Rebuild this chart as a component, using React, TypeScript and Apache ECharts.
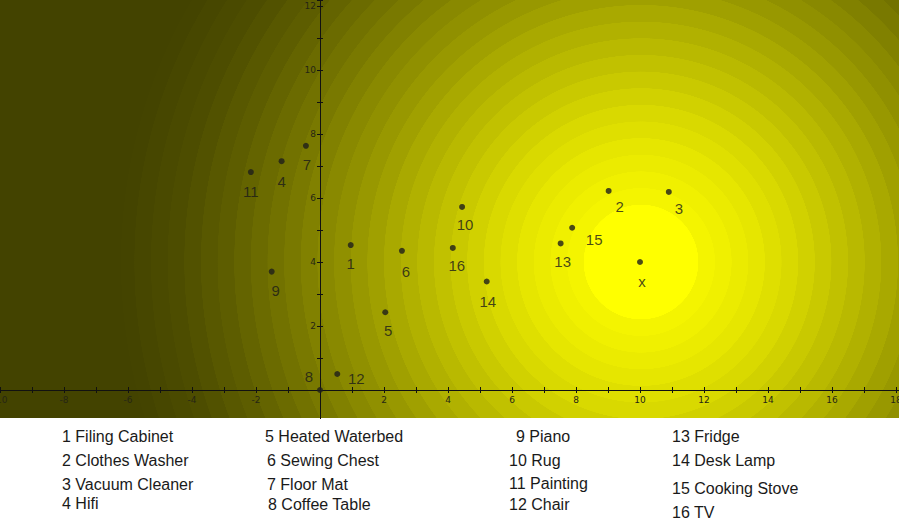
import React, { useEffect, useRef } from "react";
import * as echarts from "echarts";

// ---- data ----
const itemIds = ["1", "2", "3", "4", "5", "6", "7", "8", "9", "10", "11", "12", "13", "14", "15", "16"];
const itemNames = [
  "Filing Cabinet", "Clothes Washer", "Vacuum Cleaner", "Hifi",
  "Heated Waterbed", "Sewing Chest", "Floor Mat", "Coffee Table",
  "Piano", "Rug", "Painting", "Chair",
  "Fridge", "Desk Lamp", "Cooking Stove", "TV",
];
const xValues = [0.96, 9.02, 10.9, -1.2, 2.04, 2.56, -0.44, 0, -1.51, 4.44, -2.16, 0.54, 7.52, 5.21, 7.88, 4.15];
const yValues = [4.53, 6.22, 6.19, 7.15, 2.43, 4.35, 7.63, 0, 3.7, 5.72, 6.81, 0.5, 4.58, 3.39, 5.07, 4.44];
const idealLabel = "x";
const idealX = 10;
const idealY = 4;

// ---- styles / layout ----
const labelOffsets: Record<string, number[]> = {
  "1": [0, 18], "2": [11, 16], "3": [10, 17], "4": [0, 20], "5": [3, 18], "6": [4, 21],
  "7": [1, 19], "8": [-11, -14], "9": [4, 19], "10": [3, 18], "11": [0, 19], "12": [19, 4],
  "13": [2, 18], "14": [1, 20], "15": [22, 12], "16": [4, 18], x: [2, 19],
};
const legendPos: Record<string, number[]> = {
  "1": [62, 436], "2": [62, 460], "3": [62, 484], "4": [62, 503],
  "5": [265, 436], "6": [267, 460], "7": [267, 484], "8": [268, 504],
  "9": [516, 436], "10": [509, 460], "11": [509, 483], "12": [509, 504],
  "13": [672, 436], "14": [672, 460], "15": [672, 488], "16": [672, 512],
};
const W = 899;
const H = 524;
const PLOT_H = 418;
const GRID_H = 422;
const X_MIN = -10;
const X_MAX = 18.09375;
const Y_MIN = -1;
const Y_MAX = 12.1875;
const FONT = "'Liberation Sans', Arial, sans-serif";
const TICK_FONT = "'DejaVu Sans', sans-serif";

// background colour anchors (offset along radius, colour)
const gradientAnchors: [number, string][] = [
  [0.11, "#f6f600"],
  [0.2, "#eaea00"],
  [0.3, "#d6d600"],
  [0.4, "#bdbd00"],
  [0.5, "#a3a300"],
  [0.6, "#8a8a00"],
  [0.7, "#727200"],
  [0.8, "#5d5d00"],
  [0.9, "#4c4c00"],
  [1, "#434300"],
];
const BAND = 0.032;

function hexToRgb(h: string) {
  return [1, 3, 5].map((i) => parseInt(h.slice(i, i + 2), 16));
}
function colorAt(t: number) {
  if (t <= gradientAnchors[0][0]) return gradientAnchors[0][1];
  for (let i = 1; i < gradientAnchors.length; i++) {
    const [o1, c1] = gradientAnchors[i];
    const [o0, c0] = gradientAnchors[i - 1];
    if (t <= o1) {
      const f = (t - o0) / (o1 - o0);
      const a = hexToRgb(c0);
      const b = hexToRgb(c1);
      const m = a.map((v, k) => Math.round(v + (b[k] - v) * f));
      return `rgb(${m[0]},${m[1]},${m[2]})`;
    }
  }
  return gradientAnchors[gradientAnchors.length - 1][1];
}
function bandedStops() {
  const stops: { offset: number; color: string }[] = [
    { offset: 0, color: "#ffff00" },
    { offset: 0.11, color: "#ffff00" },
  ];
  for (let s = 0.11; s < 1; s += BAND) {
    const e = Math.min(1, s + BAND);
    const c = colorAt((s + e) / 2);
    stops.push({ offset: s + 0.0005, color: c });
    stops.push({ offset: e, color: c });
  }
  stops.push({ offset: 1, color: "#434300" });
  return stops;
}

const tickFmt = (v: number) => (v % 2 === 0 && v !== 0 ? String(v) : "");

export default function App() {
  const ref = useRef<HTMLDivElement>(null);
  useEffect(() => {
    if (!ref.current) return;
    const chart = echarts.init(ref.current, undefined, { renderer: "svg" });

    const pointData = itemIds.map((id, i) => ({
      name: id,
      value: [xValues[i], yValues[i]],
      label: { offset: labelOffsets[id] },
    }));
    pointData.push({
      name: idealLabel,
      value: [idealX, idealY],
      label: { offset: labelOffsets[idealLabel] },
    });

    const legendTexts = itemIds.map((id, i) => ({
      type: "text",
      x: legendPos[id][0],
      y: legendPos[id][1],
      z: 60,
      silent: true,
      style: {
        text: `${id} ${itemNames[i]}`,
        fill: "#1a1a1a",
        font: `16px ${FONT}`,
        textVerticalAlign: "middle",
        textAlign: "left",
      },
    }));

    // pixel offsets placing the axes through the origin
    const xAxisOffset = -(GRID_H * (0 - Y_MIN)) / (Y_MAX - Y_MIN);
    const yAxisOffset = -(W * (0 - X_MIN)) / (X_MAX - X_MIN);

    const tickStyle = { color: "#111", width: 1 };
    const labelStyle = { fontSize: 9, color: "#262614", fontFamily: TICK_FONT };

    const option: any = {
      animation: false,
      backgroundColor: "#ffffff",
      grid: {
        left: 0, top: 0, width: W, height: GRID_H,
        containLabel: false, outerBoundsMode: "none",
      },
      xAxis: [
        {
          type: "value", min: X_MIN, max: X_MAX, interval: 1,
          position: "bottom", offset: xAxisOffset,
          splitLine: { show: false },
          axisLine: { onZero: false, lineStyle: tickStyle },
          axisTick: { length: 3, lineStyle: tickStyle },
          axisLabel: { ...labelStyle, formatter: tickFmt, margin: 5 },
        },
        {
          type: "value", min: X_MIN, max: X_MAX, interval: 1,
          position: "bottom", offset: xAxisOffset,
          splitLine: { show: false },
          axisLine: { show: false, onZero: false },
          axisTick: { inside: true, length: 3, lineStyle: tickStyle },
          axisLabel: { show: false },
        },
      ],
      yAxis: [
        {
          type: "value", min: Y_MIN, max: Y_MAX, interval: 1,
          position: "left", offset: yAxisOffset,
          splitLine: { show: false },
          axisLine: { onZero: false, lineStyle: tickStyle },
          axisTick: { length: 3, lineStyle: tickStyle },
          axisLabel: { ...labelStyle, formatter: tickFmt, margin: 4 },
        },
        {
          type: "value", min: Y_MIN, max: Y_MAX, interval: 1,
          position: "left", offset: yAxisOffset,
          splitLine: { show: false },
          axisLine: { show: false, onZero: false },
          axisTick: { inside: true, length: 3, lineStyle: tickStyle },
          axisLabel: { show: false },
        },
      ],
      graphic: [
        {
          type: "rect",
          z: -10,
          silent: true,
          shape: { x: 0, y: 0, width: W, height: PLOT_H },
          style: { fill: new echarts.graphic.RadialGradient(641, 262, 520, bandedStops(), true) },
        },
        {
          type: "rect",
          z: 50,
          silent: true,
          shape: { x: 0, y: 419, width: W, height: H - 419 },
          style: { fill: "#ffffff" },
        },
        ...legendTexts,
      ],
      series: [
        {
          type: "scatter",
          xAxisIndex: 0,
          yAxisIndex: 0,
          symbolSize: 6,
          itemStyle: { color: "#1e1e1a" },
          label: {
            show: true,
            position: "inside",
            formatter: "{b}",
            fontSize: 15,
            color: "#1a1a1a",
            fontFamily: FONT,
          },
          data: pointData,
        },
      ],
    };
    chart.setOption(option);
    return () => chart.dispose();
  }, []);

  return (
    <div
      ref={ref}
      style={{ position: "fixed", left: 0, top: 0, width: W, height: H, background: "#fff" }}
    />
  );
}
